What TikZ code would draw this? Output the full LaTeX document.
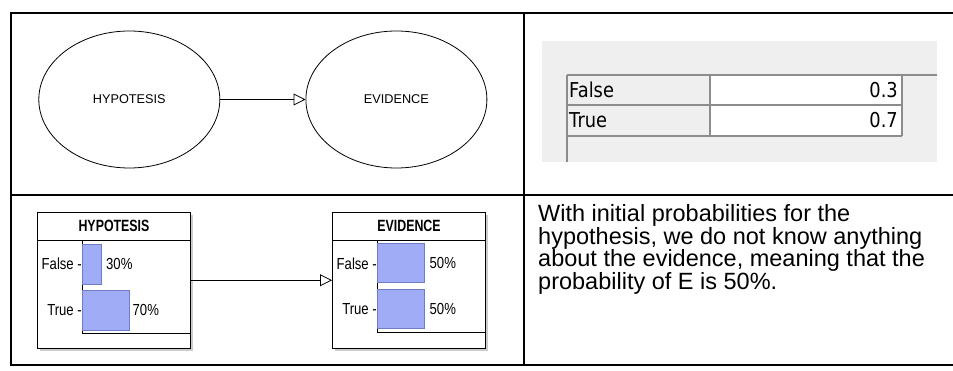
\documentclass[tikz,border=0pt]{standalone}
\usepackage{fontspec}
\usepackage{xcolor}
\setmainfont{Liberation Sans}
\newfontfamily\narrowfont[FakeStretch=0.82]{Liberation Sans}
\newfontfamily\titlefont[FakeStretch=0.76]{Liberation Sans}
\newfontfamily\tablefont[FakeStretch=0.87]{DejaVu Sans}
\usepackage{tikz}
\usetikzlibrary{arrows.meta,shapes.geometric,shadows,positioning}

\definecolor{barblue}{RGB}{160,172,245}
\definecolor{baredge}{RGB}{112,124,196}
\definecolor{panelgray}{RGB}{239,239,239}
\definecolor{cellgray}{RGB}{140,140,140}

\tikzset{
grid/.style={line width=2pt},
state/.style={ellipse,draw,line width=0.8pt,minimum width=181pt,minimum height=137pt,inner sep=0pt,font=\fontsize{12.7}{14}\selectfont},
link/.style={-{Triangle[open,length=12pt,width=12pt]},line width=0.8pt},
cell/.style={draw=cellgray,line width=1.2pt},
tabtext/.style={inner sep=0pt,font=\tablefont\fontsize{20.5}{22}\selectfont},
netbox/.style={draw,fill=white,line width=0.9pt,minimum width=153pt,minimum height=135.5pt,inner sep=0pt,drop shadow={shadow xshift=2.5pt,shadow yshift=-2.5pt,fill=black!40,opacity=0.5}},
title/.style={inner sep=0pt,font=\titlefont\bfseries\fontsize{16.3}{18}\selectfont},
lab/.style={inner sep=0pt,font=\narrowfont\fontsize{16}{18}\selectfont},
bar/.style={fill=barblue,draw=baredge,line width=0.6pt},
frame/.style={line width=0.9pt}
}

\begin{document}
\begin{tikzpicture}[x=1pt,y=-1pt]
\useasboundingbox (0,0) rectangle (953,371);
\draw[grid] (953,12.7) -- (10.7,12.7) -- (10.7,365) -- (953,365);
\draw[grid] (10.7,194.7) -- (953,194.7);
\draw[grid] (524,12.7) -- (524,365);

\node[state] (0) at (129.3,99.5) {HYPOTESIS};
\node[state] (1) at (396.4,99.5) {EVIDENCE};
\draw[link] (0) -- (1);

\fill[panelgray] (542,41) rectangle (937,162);
\fill[white] (710,75) rectangle (902,136);
\draw[cell] (567,75) -- (937,75) (567,105) -- (902,105) (567,136) -- (902,136);
\draw[cell] (567,75) -- (567,162) (710,75) -- (710,136) (902,75) -- (902,136);
\node[tabtext,anchor=base west] (2) at (569,98) {False};
\node[tabtext,anchor=base east] (3) at (898,98) {0.3};
\node[tabtext,anchor=base west] (4) at (569,128) {True};
\node[tabtext,anchor=base east] (5) at (898,128) {0.7};

\node[netbox] (6) at (114,280.25) {};
\node[title] (7) at (114,226.25) {HYPOTESIS};
\draw[frame] (37.5,240) -- (190.5,240);
\draw[frame] (82.5,240) -- (82.5,333) -- (190.5,333);
\draw[bar] (82.5,244) rectangle (101.5,284);
\draw[bar] (82.5,290) rectangle (129.5,330);
\node[lab,anchor=east] (8) at (82,264) {False -};
\node[lab,anchor=east] (9) at (82,310) {True -};
\node[lab,anchor=west] (10) at (106,264) {30\%};
\node[lab,anchor=west] (11) at (132.5,310) {70\%};

\node[netbox] (12) at (409,280.25) {};
\node[title] (13) at (409,226.25) {EVIDENCE};
\draw[frame] (332.5,240) -- (485.5,240);
\draw[frame] (377.5,240) -- (377.5,332.5) -- (485.5,332.5);
\draw[bar] (377.5,243) rectangle (424.5,282.5);
\draw[bar] (377.5,289.5) rectangle (424.5,328.5);
\node[lab,anchor=east] (14) at (377,263.3) {False -};
\node[lab,anchor=east] (15) at (377,309.3) {True -};
\node[lab,anchor=west] (16) at (429.5,263.3) {50\%};
\node[lab,anchor=west] (17) at (429.5,309.3) {50\%};
\draw[link] (6) -- (12);

\node[anchor=north west,inner sep=0pt,align=left,font=\fontsize{23.5}{22.5}\selectfont] (18) at (538,204.5) {With initial probabilities for the\\hypothesis, we do not know anything\\about the evidence, meaning that the\\probability of E is 50\%.};
\end{tikzpicture}
\end{document}
